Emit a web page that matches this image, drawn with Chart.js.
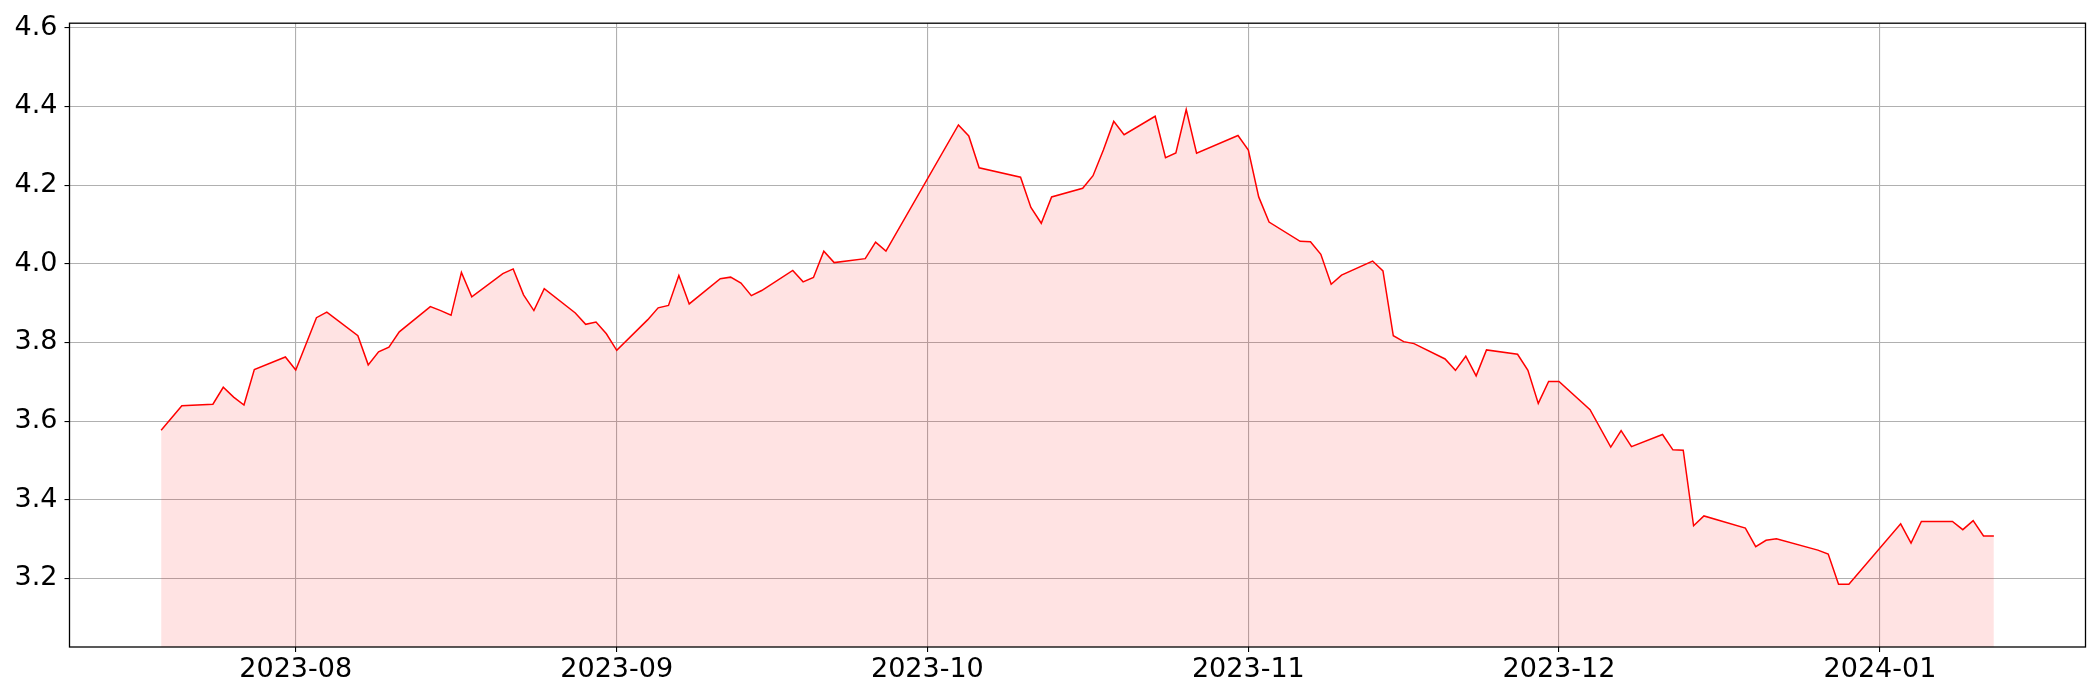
<!DOCTYPE html>
<html>
<head>
<meta charset="utf-8">
<script src="https://cdn.jsdelivr.net/npm/chart.js@4/dist/chart.umd.min.js"></script>
<style>
  html, body { margin: 0; padding: 0; background: #ffffff; }
  #wrap { width: 2100px; height: 700px; }
</style>
</head>
<body>
<div id="wrap"><canvas id="c" width="2100" height="700"></canvas></div>
<script>
const dates = [
  "2023-07-19","2023-07-21","2023-07-24","2023-07-25","2023-07-26","2023-07-27","2023-07-28","2023-07-31",
  "2023-08-01","2023-08-03","2023-08-04","2023-08-07","2023-08-08","2023-08-09","2023-08-10","2023-08-11",
  "2023-08-14","2023-08-15","2023-08-16","2023-08-17","2023-08-18","2023-08-21","2023-08-22","2023-08-23",
  "2023-08-24","2023-08-25","2023-08-28","2023-08-29","2023-08-30","2023-08-31","2023-09-01","2023-09-04",
  "2023-09-05","2023-09-06","2023-09-07","2023-09-08","2023-09-11","2023-09-12","2023-09-13","2023-09-14",
  "2023-09-15","2023-09-18","2023-09-19","2023-09-20","2023-09-21","2023-09-22","2023-09-25","2023-09-26",
  "2023-09-27","2023-10-04","2023-10-05","2023-10-06","2023-10-10","2023-10-11","2023-10-12","2023-10-13",
  "2023-10-16","2023-10-17","2023-10-18","2023-10-19","2023-10-20","2023-10-23","2023-10-24","2023-10-25",
  "2023-10-26","2023-10-27","2023-10-31","2023-11-01","2023-11-02","2023-11-03","2023-11-06","2023-11-07",
  "2023-11-08","2023-11-09","2023-11-10","2023-11-13","2023-11-14","2023-11-15","2023-11-16","2023-11-17",
  "2023-11-20","2023-11-21","2023-11-22","2023-11-23","2023-11-24","2023-11-27","2023-11-28","2023-11-29",
  "2023-11-30","2023-12-01","2023-12-04","2023-12-06","2023-12-07","2023-12-08","2023-12-11","2023-12-12",
  "2023-12-13","2023-12-14","2023-12-15","2023-12-19","2023-12-20","2023-12-21","2023-12-22","2023-12-26",
  "2023-12-27","2023-12-28","2023-12-29","2024-01-03","2024-01-04","2024-01-05","2024-01-08","2024-01-09",
  "2024-01-10","2024-01-11","2024-01-12"
];
const values = [
  3.577,3.639,3.643,3.686,3.661,3.641,3.731,3.763,
  3.730,3.863,3.877,3.817,3.743,3.776,3.788,3.827,
  3.891,3.881,3.869,3.978,3.916,3.975,3.987,3.921,
  3.881,3.937,3.875,3.846,3.852,3.822,3.780,3.858,
  3.888,3.894,3.970,3.898,3.962,3.966,3.951,3.919,
  3.932,3.983,3.954,3.965,4.032,4.003,4.013,4.055,
  4.032,4.353,4.325,4.244,4.220,4.143,4.103,4.170,
  4.192,4.224,4.289,4.362,4.328,4.375,4.270,4.282,
  4.392,4.281,4.326,4.289,4.170,4.106,4.057,4.056,
  4.024,3.948,3.971,4.007,3.982,3.817,3.802,3.797,
  3.758,3.729,3.765,3.715,3.781,3.770,3.729,3.645,
  3.701,3.701,3.629,3.534,3.576,3.535,3.566,3.527,
  3.526,3.334,3.359,3.328,3.281,3.297,3.301,3.272,
  3.262,3.185,3.185,3.339,3.290,3.345,3.345,3.324,
  3.347,3.308,3.308
];
const xTickLabels = ["2023-08","2023-09","2023-10","2023-11","2023-12","2024-01"];
const yTicks = [3.2, 3.4, 3.6, 3.8, 4.0, 4.2, 4.4, 4.6];

const DAY = 86400000;
function toDay(s) {
  const p = s.split("-").map(Number);
  return Date.UTC(p[0], p[1] - 1, p[2] || 1) / DAY;
}
const points = dates.map((d, i) => ({ x: toDay(d), y: values[i] }));
const xTickVals = xTickLabels.map(toDay);

const x0 = points[0].x, x1 = points[points.length - 1].x;
const xPad = (x1 - x0) * 0.05;
const vMin = Math.min(...values), vMax = Math.max(...values);

const frame = {
  id: 'frame',
  afterDraw(chart) {
    const a = chart.chartArea, ctx = chart.ctx;
    ctx.save();
    ctx.strokeStyle = '#000';
    ctx.lineWidth = 1.3;
    ctx.strokeRect(a.left, a.top, a.right - a.left, a.bottom - a.top);
    ctx.restore();
  }
};

Chart.defaults.font.family = "'DejaVu Sans', sans-serif";

new Chart(document.getElementById('c'), {
  type: 'line',
  data: {
    datasets: [{
      data: points,
      borderColor: '#ff0000',
      borderWidth: 1.5,
      backgroundColor: 'rgba(255,0,0,0.11)',
      fill: 'start',
      pointRadius: 0,
      tension: 0
    }]
  },
  options: {
    responsive: false,
    animation: false,
    devicePixelRatio: 1,
    layout: { padding: { top: 22, right: 14.5, left: 0, bottom: 0 } },
    plugins: { legend: { display: false }, tooltip: { enabled: false } },
    scales: {
      x: {
        type: 'linear',
        min: x0 - xPad,
        max: x1 + xPad,
        afterBuildTicks(scale) { scale.ticks = xTickVals.map(v => ({ value: v })); },
        afterFit(scale) { scale.height = 53; },
        ticks: {
          autoSkip: false,
          maxRotation: 0,
          minRotation: 0,
          padding: 2,
          color: '#000',
          font: { size: 27 },
          callback(value, index) { return xTickLabels[index]; }
        },
        grid: { color: '#b0b0b0', lineWidth: 1.1, tickColor: '#000', tickLength: 5, drawTicks: true },
        border: { display: false }
      },
      y: {
        type: 'linear',
        min: vMin * 0.95,
        max: vMax * 1.05,
        afterBuildTicks(scale) { scale.ticks = yTicks.map(v => ({ value: v })); },
        afterFit(scale) { scale.width = 69.5; },
        ticks: {
          padding: 7,
          color: '#000',
          font: { size: 27 },
          callback(value) { return value.toFixed(1); }
        },
        grid: { color: '#b0b0b0', lineWidth: 1.1, tickColor: '#000', tickLength: 5, drawTicks: true },
        border: { display: false }
      }
    }
  },
  plugins: [frame]
});
</script>
</body>
</html>
